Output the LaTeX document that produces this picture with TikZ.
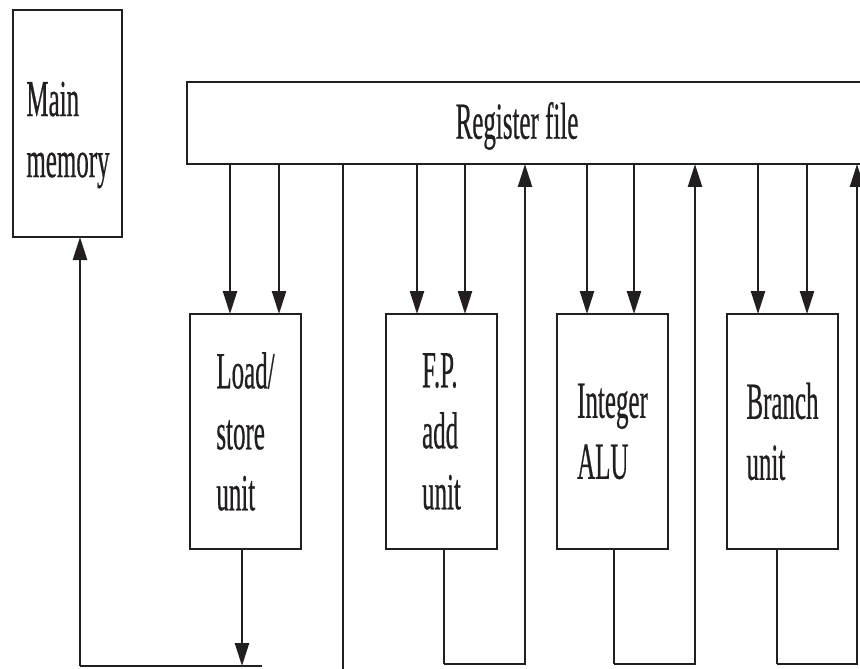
\documentclass[tikz,border=0pt]{standalone}
\usepackage{fontspec}
\setmainfont[FakeStretch=0.48,FakeBold=0.4]{Liberation Serif}
\usetikzlibrary{arrows.meta}
\definecolor{ink}{RGB}{35,31,32}
\begin{document}
\begin{tikzpicture}[x=0.5pt,y=-0.5pt,
  lbl/.style={font=\fontsize{26}{30.5}\selectfont, align=left, text=ink},
  unitbox/.style={lbl, draw=ink, line width=1pt, anchor=north west, inner sep=0pt, outer sep=0pt,
    minimum width=55.5pt, minimum height=117.5pt},
  arr/.style={draw=ink, line width=1.25pt, -{Triangle[length=11.5pt,width=7pt]}},
  ret/.style={draw=ink, line width=1.25pt},
  thinln/.style={draw=ink, line width=0.6pt}]
\useasboundingbox (0,0) rectangle (860,668);
\clip (0,0) rectangle (860,668);

% boxes
\node[draw=ink, line width=1pt, anchor=north west, inner sep=0pt, outer sep=0pt,
  minimum width=54.5pt, minimum height=113.5pt] (mm) at (13,10) {};
\node[lbl, inner sep=0pt] (mmtext) at (68,135) {Main\\memory};
\node[draw=ink, line width=1pt, anchor=north west, inner sep=0pt, outer sep=0pt,
  minimum width=400pt, minimum height=41pt] (rf) at (187,82) {};
\node[lbl, inner sep=0pt] (rftext) at (517,126) {Register file};

\node[unitbox] (ls) at (190,314) {Load/\\store\\unit};
\node[unitbox] (fp) at (386,314) {F.P.\\add\\unit};
\node[unitbox] (ia) at (557,314) {Integer\\ALU};
\node[unitbox] (br) at (727,314) {Branch\\unit};

% helper coordinates
\coordinate (xa1) at (230,0);
\coordinate (xa2) at (279,0);
\coordinate (xb1) at (417,0);
\coordinate (xb2) at (465,0);
\coordinate (xc1) at (587,0);
\coordinate (xc2) at (634,0);
\coordinate (xd1) at (758,0);
\coordinate (xd2) at (807,0);
\coordinate (xr1) at (525,0);
\coordinate (xr2) at (695,0);
\coordinate (xr3) at (857,0);
\coordinate (xo1) at (444,0);
\coordinate (xo2) at (614,0);
\coordinate (xo3) at (777,0);
\coordinate (xls) at (242,0);
\coordinate (xmm) at (80,0);
\coordinate (xv) at (343,0);
\coordinate (loop) at (0,664);
\coordinate (membus) at (0,666);
\coordinate (edge) at (0,670);
\coordinate (busend) at (262,666);

% operand arrows from register file
\foreach \c/\b in {xa1/ls,xa2/ls,xb1/fp,xb2/fp,xc1/ia,xc2/ia,xd1/br,xd2/br}
  \draw[arr] (rf.south -| \c) -- (\c |- \b.north);

% result paths back to register file
\draw[thinln] (fp.south -| xo1) -- (xo1 |- loop);
\draw[arr] (xo1 |- loop) -| (rf.south -| xr1);
\draw[thinln] (ia.south -| xo2) -- (xo2 |- loop);
\draw[arr] (xo2 |- loop) -| (rf.south -| xr2);
\draw[thinln] (br.south -| xo3) -- (xo3 |- loop);
\draw[arr] (xo3 |- loop) -| (rf.south -| xr3);

% load/store to memory
\draw[arr] (ls.south -| xls) -- (xls |- membus);
\draw[ret] (xmm |- membus) -- (busend);
\draw[arr] (xmm |- membus) -- (xmm |- mm.south);

% thin line from register file
\draw[thinln] (rf.south -| xv) -- (xv |- edge);
\end{tikzpicture}
\end{document}
